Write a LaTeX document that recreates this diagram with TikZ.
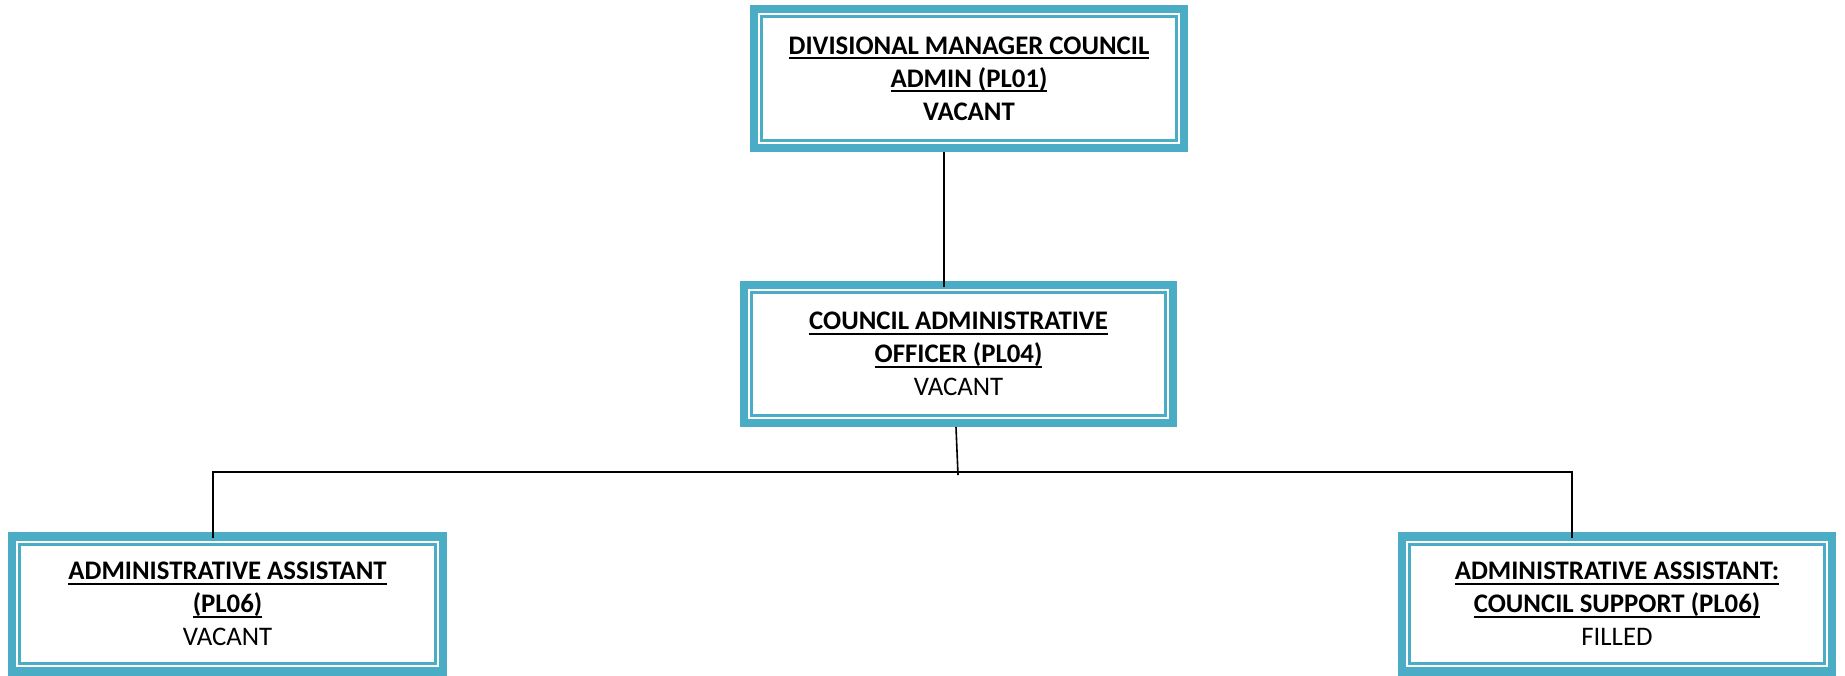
\documentclass[tikz,border=0pt]{standalone}
\usepackage{fontspec}
\setmainfont{Carlito}
\newcommand{\postline}[1]{\setbox0\hbox{#1}\rlap{\rule[-2.4pt]{\wd0}{0.8pt}}\box0}
\definecolor{postblue}{HTML}{4BACC6}

\begin{document}
\begin{tikzpicture}
	[x=0.5pt,y=-0.5pt,
	post/.style={rectangle,draw=postblue,line width=4.2pt,fill=white,align=center,inner sep=0pt,
		font=\fontsize{13.4}{16.5}\selectfont,
		path picture={\draw[postblue,line width=1.4pt]
			([shift={(3.9pt,3.9pt)}]path picture bounding box.south west) rectangle
			([shift={(-3.9pt,-3.9pt)}]path picture bounding box.north east);}},
	link/.style={draw=black,line width=0.8pt}]
	\useasboundingbox (0,0) rectangle (1845,675);

	\node[post,minimum width=215pt,minimum height=69.5pt] (dm) at (969,78.5)
		{\postline{\textbf{DIVISIONAL MANAGER COUNCIL}}\\\postline{\textbf{ADMIN (PL01)}}\\\textbf{VACANT}};
	\node[post,minimum width=214.5pt,minimum height=69pt] (cao) at (958.5,354)
		{\postline{\textbf{COUNCIL ADMINISTRATIVE}}\\\postline{\textbf{OFFICER (PL04)}}\\VACANT};
	\node[post,minimum width=215.5pt,minimum height=67.5pt] (aa) at (227.5,604)
		{\postline{\textbf{ADMINISTRATIVE ASSISTANT}}\\\postline{\textbf{(PL06)}}\\VACANT};
	\node[post,minimum width=215pt,minimum height=67.5pt] (aacs) at (1617,604)
		{\postline{\textbf{ADMINISTRATIVE ASSISTANT:}}\\\postline{\textbf{COUNCIL SUPPORT (PL06)}}\\FILLED};

	\coordinate (c1) at (944,0);
	\coordinate (c2) at (956,0);
	\coordinate (c3) at (958,475);
	\coordinate (bl) at (213,472);
	\coordinate (br) at (1572,472);

	\draw[link] (dm.south -| c1) -- ([yshift=-3pt]cao.north -| c1);
	\draw[link] (cao.south -| c2) -- (c3);
	\draw[link] ([yshift=-3pt]aa.north -| bl) -- (bl) -- (br) -- ([yshift=-3pt]aacs.north -| br);
\end{tikzpicture}
\end{document}
